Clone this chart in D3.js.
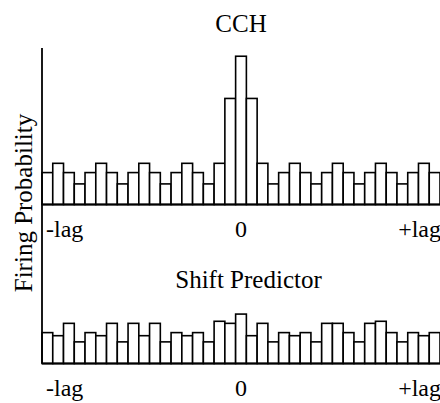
<!DOCTYPE html>
<html><head><meta charset="utf-8">
<script src="https://cdn.jsdelivr.net/npm/d3@7"></script>
<style>
html,body{margin:0;padding:0;background:#fff;}
svg{display:block;}
</style></head>
<body>
<svg id="chart" width="440" height="403"></svg>
<script>
// Data (firing probability per lag bin, 37 bins from -lag to +lag)
const bins = d3.range(-18, 19);
const cchValues = [0.031,0.040,0.031,0.020, 0.031,0.040,0.031,0.020, 0.031,0.040,0.031,0.020, 0.031,0.040,0.031,0.020,
  0.040,0.103,0.144,0.103,0.040,0.020,
  0.031,0.040,0.031,0.020, 0.031,0.040,0.031,0.020, 0.031,0.040,0.031,0.020, 0.031,0.040,0.031];
const shiftValues = [0.030,0.027,0.039,0.021,0.030,0.027,0.039,0.021,0.039,0.027,0.039,0.021,0.030,0.027,0.030,0.021,
  0.041,0.039,0.048,0.027,0.039,0.021,0.030,0.027,0.030,0.021,0.039,0.039,0.030,0.021,0.039,0.041,0.030,0.021,0.030,0.027,0.030];
const tickLabels = ["-lag", "0", "+lag"];
const titleTop = "CCH";
const titleBottom = "Shift Predictor";
const yLabel = "Firing Probability";

const svg = d3.select("#chart");

const x = d3.scaleBand().domain(bins).range([42, 440]).padding(0);
const yMax = 0.152;
const yTop = d3.scaleLinear().domain([0, yMax]).range([204.5, 48]);
const yBot = d3.scaleLinear().domain([0, yMax]).range([363.5, 207]);

function addText(sel, size) {
  return sel.append("text")
    .style("font-family", "'Liberation Serif'")
    .style("font-size", size + "px")
    .attr("dx", 0)
    .attr("fill", "#000");
}

function drawHist(values, y, labelY) {
  const g = svg.append("g");
  g.selectAll("rect").data(values).join("rect")
    .attr("x", (d, i) => x(bins[i]))
    .attr("y", d => y(d))
    .attr("width", x.bandwidth())
    .attr("height", d => y(0) - y(d))
    .attr("fill", "#fff")
    .attr("stroke", "#000")
    .attr("stroke-width", 1.6);
  g.append("line")
    .attr("x1", x.range()[0]).attr("x2", x.range()[1])
    .attr("y1", y(0)).attr("y2", y(0))
    .attr("stroke", "#000").attr("stroke-width", 1.8);
  const tickPos = [
    {t: tickLabels[0], x: x(bins[0]) + 4, a: "start"},
    {t: tickLabels[1], x: x(0) + x.bandwidth() / 2, a: "middle"},
    {t: tickLabels[2], x: x.range()[1] + 1, a: "end"}
  ];
  tickPos.forEach(d => {
    addText(g, 24).attr("x", d.x).attr("y", labelY)
      .attr("text-anchor", d.a).text(d.t);
  });
}

drawHist(cchValues, yTop, 236.5);
drawHist(shiftValues, yBot, 396);

// y axis line
svg.append("line")
  .attr("x1", 42).attr("x2", 42)
  .attr("y1", yTop(yMax)).attr("y2", yBot(0))
  .attr("stroke", "#000").attr("stroke-width", 1.8);

addText(svg, 25).attr("x", 241).attr("y", 32)
  .attr("text-anchor", "middle")
  .text(titleTop);
addText(svg, 25).attr("x", 248.5).attr("y", 288)
  .attr("text-anchor", "middle")
  .text(titleBottom);
addText(svg, 25)
  .attr("transform", "translate(32,203) rotate(-90)")
  .attr("text-anchor", "middle")
  .text(yLabel);
</script>
</body></html>
